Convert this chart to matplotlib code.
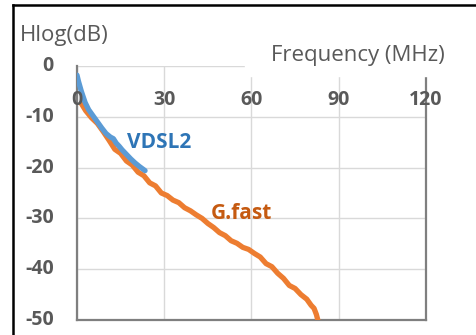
import matplotlib
matplotlib.use("Agg")
import matplotlib.pyplot as plt
from matplotlib.lines import Line2D
from matplotlib.patches import Rectangle

# data
vdsl_x = [0.0, 0.5, 1.5, 2.8, 4.0, 5.5, 7.0, 8.5, 10.0, 11.5, 12.5, 13.5, 14.5, 15.5,
          17.0, 18.5, 20.0, 21.5, 23.4]
vdsl_y = [-1.8, -3.0, -5.0, -7.2, -8.6, -9.8, -11.0, -12.2, -13.3, -14.0, -14.3, -15.2,
          -15.8, -16.5, -17.4, -18.3, -19.1, -19.8, -20.6]

gfast_x = [1.5, 3, 5, 7, 9, 11, 13, 15, 17, 19, 21, 23, 25, 27, 29, 31, 33, 35, 37, 39,
           41, 43, 45, 47, 49, 51, 53, 55, 57, 59, 61, 63, 65, 67, 69, 71, 73, 75, 77,
           79, 80.5, 81.5, 82.3, 82.8]
gfast_y = [-7.4, -8.8, -10.2, -11.3, -12.9, -14.6, -16.4, -17.2, -18.7, -19.5, -20.9,
           -21.6, -23.0, -23.6, -25.0, -25.5, -26.4, -26.9, -27.9, -28.5, -29.3, -30.0,
           -31.0, -31.8, -32.8, -33.4, -34.4, -34.9, -35.7, -36.1, -36.9, -37.6, -38.9,
           -39.5, -40.8, -41.8, -43.2, -43.8, -45.0, -45.9, -47.1, -47.7, -48.9, -50.0]

x_ticks = [0, 30, 60, 90, 120]
y_ticks = [0, -10, -20, -30, -40, -50]

BLUE, ORANGE = "#5B9BD5", "#ED7D31"
GREY = "#595959"
FONT = "Open Sans"

W, H = 476, 335
fig = plt.figure(figsize=(W / 100, H / 100), dpi=100)
ax = fig.add_axes([77 / W, 1 - 320 / H, (426 - 77) / W, (320 - 66) / H])

ax.plot(gfast_x, gfast_y, color=ORANGE, lw=3.8, solid_capstyle="round", zorder=3)
ax.plot(vdsl_x, vdsl_y, color=BLUE, lw=3.8, solid_capstyle="round", zorder=4)

ax.set_xlim(0, 120)
ax.set_ylim(-50, 0)
ax.set_xticks(x_ticks)
ax.set_yticks(y_ticks)
ax.tick_params(length=0, labelbottom=False, labelleft=False)
ax.grid(True, color="#d9d9d9", lw=1.0)
ax.set_axisbelow(True)
for s in ("left", "bottom", "right"):
    ax.spines[s].set_color("#7f7f7f")
    ax.spines[s].set_linewidth(1.6)
ax.spines["top"].set_visible(False)

# x tick labels sit inside the plot, just under the zero line
for v in x_ticks:
    ax.text(v, -6.7, str(v), ha="center", va="center", fontsize=14, fontweight="bold",
            color=GREY, family=FONT, zorder=5)
# y tick labels
for v in y_ticks:
    ax.text(-8.0, v, str(v), ha="right", va="center", fontsize=14, fontweight="bold",
            color=GREY, family=FONT, clip_on=False)

ax.text(17.2, -15.0, "VDSL2", ha="left", va="center", fontsize=15, fontweight="bold",
        color="#2E75B6", family=FONT, zorder=6)
ax.text(46.0, -29.0, "G.fast", ha="left", va="center", fontsize=15, fontweight="bold",
        color="#C55A11", family=FONT, zorder=6)

# white box behind the axis title hides the top gridline there
fig.patches.append(Rectangle((245 / W, 1 - 76 / H), 228 / W, 50 / H,
                             transform=fig.transFigure, color="white", zorder=1))
fig.text(358 / W, 1 - 55 / H, "Frequency (MHz)", ha="center", va="center",
         fontsize=16, color=GREY, family=FONT, zorder=3)
fig.text(20 / W, 1 - 36 / H, "Hlog(dB)", ha="left", va="center", fontsize=16,
         color=GREY, family=FONT)

# outer frame (top and left edges)
fig.add_artist(Line2D([13 / W, 1], [1 - 5 / H, 1 - 5 / H], color="black", lw=1.8))
fig.add_artist(Line2D([13 / W, 13 / W], [0, 1 - 5 / H], color="black", lw=1.8))

fig.savefig("out.png", dpi=100)
